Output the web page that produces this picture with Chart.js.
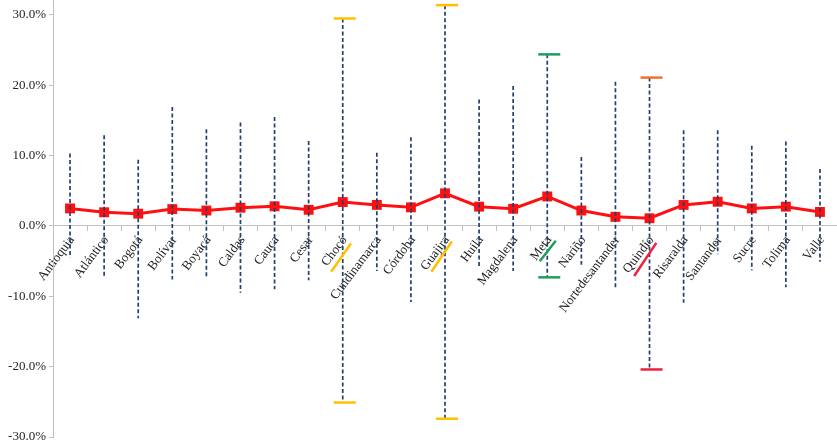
<!DOCTYPE html>
<html>
<head>
<meta charset="utf-8">
<script src="https://cdn.jsdelivr.net/npm/chart.js@4.4.1/dist/chart.umd.min.js"></script>
<style>
  html, body { margin: 0; padding: 0; background: #fff; }
  #wrap { width: 837px; height: 443px; position: relative; }
</style>
</head>
<body>
<div id="wrap"><canvas id="chart"></canvas></div>
<script>
// departamentos
const categories = [
  "Antioquia", "Atlántico", "Bogotá", "Bolívar", "Boyacá", "Caldas", "Cauca",
  "Cesar", "Chocó", "Cundinamarca", "Córdoba", "Guajira", "Huila", "Magdalena",
  "Meta", "Nariño", "Nortedesantander", "Quindío", "Risaralda", "Santander",
  "Sucre", "Tolima", "Valle"
];

// promedio (%)
const meanValues = [
  2.5, 1.95, 1.75, 2.4, 2.2, 2.6, 2.8,
  2.3, 3.4, 3.0, 2.65, 4.65, 2.75, 2.45,
  4.2, 2.2, 1.3, 1.1, 3.0, 3.45,
  2.5, 2.75, 2.0
];

// rango min / max (%)
const highValues = [
  10.3, 12.9, 9.4, 16.9, 13.75, 14.7, 15.5,
  12.1, 29.5, 10.4, 12.6, 31.4, 18.0, 19.9,
  24.4, 9.8, 20.5, 21.1, 13.6, 13.6,
  11.4, 12.0, 8.1
];
const lowValues = [
  -4.5, -7.3, -13.1, -7.6, -7.3, -9.5, -9.0,
  -7.7, -25.1, -6.4, -10.8, -27.4, -6.0, -6.4,
  -7.3, -5.5, -8.7, -20.4, -10.9, -4.0,
  -6.3, -8.7, -5.1
];

const yTicks = [-30, -20, -10, 0, 10, 20, 30];

// barras resaltadas: color del tope y de la base
const capColors = {
  "Chocó": ["#ffc000", "#ffc000"],
  "Guajira": ["#ffc000", "#ffc000"],
  "Meta": ["#1e9e5e", "#1e9e5e"],
  "Quindío": ["#f07030", "#f0203c"],
};

// marcas diagonales sobre las etiquetas (indice +- desplazamiento, valor %)
const slashMarks = [
  { cat: "Chocó", from: [-0.34, -6.5], to: [0.24, -2.5], color: "#ffc000" },
  { cat: "Guajira", from: [-0.4, -6.5], to: [0.2, -2.2], color: "#ffc000" },
  { cat: "Meta", from: [-0.22, -5.0], to: [0.25, -2.1], color: "#1e9e5e" },
  { cat: "Quindío", from: [-0.45, -7.1], to: [0.2, -2.4], color: "#f0203c" },
];

const rangeBars = {
  id: "rangeBars",
  afterDatasetsDraw(chart) {
    const { ctx, scales: { x, y } } = chart;
    const step = x.getPixelForValue(1) - x.getPixelForValue(0);
    ctx.save();
    categories.forEach((c, i) => {
      const px = x.getPixelForValue(i);
      const yTop = y.getPixelForValue(highValues[i]);
      const yBot = y.getPixelForValue(lowValues[i]);
      ctx.setLineDash([4, 2.5]);
      ctx.lineWidth = 1.7;
      ctx.strokeStyle = "#22406e";
      ctx.beginPath();
      ctx.moveTo(px, yTop);
      ctx.lineTo(px, yBot);
      ctx.stroke();
      const caps = capColors[c];
      if (caps) {
        ctx.setLineDash([]);
        ctx.lineWidth = 2.5;
        ctx.strokeStyle = caps[0];
        ctx.beginPath();
        ctx.moveTo(px - 9, yTop);
        ctx.lineTo(px + 13, yTop);
        ctx.stroke();
        ctx.strokeStyle = caps[1];
        ctx.beginPath();
        ctx.moveTo(px - 9, yBot);
        ctx.lineTo(px + 13, yBot);
        ctx.stroke();
      }
    });
    ctx.setLineDash([]);
    ctx.lineWidth = 2.5;
    slashMarks.forEach(m => {
      const px = x.getPixelForValue(categories.indexOf(m.cat));
      ctx.strokeStyle = m.color;
      ctx.beginPath();
      ctx.moveTo(px + m.from[0] * step, y.getPixelForValue(m.from[1]));
      ctx.lineTo(px + m.to[0] * step, y.getPixelForValue(m.to[1]));
      ctx.stroke();
    });
    ctx.restore();
  },
};

const serif = { family: "'Liberation Serif', 'DejaVu Serif', serif", size: 13 };

new Chart(document.getElementById("chart"), {
  type: "line",
  data: {
    labels: categories,
    datasets: [{
      data: meanValues,
      borderColor: "#ff1010",
      backgroundColor: "#ff1010",
      borderWidth: 3,
      pointStyle: "rect",
      pointRadius: 7,
      pointBorderWidth: 0,
      tension: 0,
    }],
  },
  options: {
    responsive: true,
    maintainAspectRatio: false,
    animation: false,
    layout: { autoPadding: false, padding: { top: 0, right: 0, bottom: 6, left: 0 } },
    plugins: { legend: { display: false }, tooltip: { enabled: false } },
    scales: {
      x: {
        type: "category",
        offset: true,
        position: { y: 0 },
        border: { color: "#c0c0c0", width: 1 },
        grid: { offset: true, drawOnChartArea: false, drawTicks: true, tickLength: 5, color: "#c0c0c0" },
        ticks: {
          autoSkip: false,
          minRotation: 53,
          maxRotation: 53,
          padding: 2,
          labelOffset: 2,
          color: "#222",
          font: serif,
        },
      },
      y: {
        min: -30,
        max: 32.13,
        afterBuildTicks: (s) => { s.ticks = yTicks.map(v => ({ value: v })); },
        afterFit: (s) => { s.width = 53; s.paddingTop = 0; s.paddingBottom = 0; },
        border: { color: "#c0c0c0", width: 1 },
        grid: { drawOnChartArea: false, drawTicks: true, tickLength: 4, color: "#c0c0c0" },
        ticks: {
          padding: 3,
          color: "#222",
          font: serif,
          callback: (v) => v.toFixed(1) + "%",
        },
      },
    },
  },
  plugins: [rangeBars],
});
</script>
</body>
</html>
